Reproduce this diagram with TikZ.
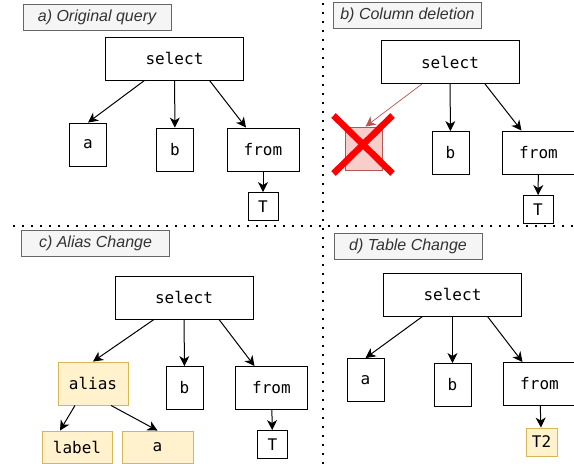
\documentclass[tikz,border=0pt]{standalone}
\usepackage{fontspec}
\setmonofont{DejaVu Sans Mono}
\setsansfont{Liberation Sans}
\usetikzlibrary{arrows.meta,positioning}
\definecolor{tagfill}{HTML}{F5F5F5}
\definecolor{tagline}{HTML}{666666}
\definecolor{tagtext}{HTML}{333333}
\definecolor{newfill}{HTML}{FFF2CC}
\definecolor{newline}{HTML}{D6B656}
\definecolor{delfill}{HTML}{F8CECC}
\definecolor{delline}{HTML}{B85450}
\tikzstyle{box}=[draw=black,line width=0.9pt,fill=white,inner sep=0pt,font=\ttfamily\fontsize{16}{16}\selectfont]
\tikzstyle{selbox}=[box,minimum width=138pt,minimum height=43pt]
\tikzstyle{leafbox}=[box,minimum width=37pt,minimum height=43pt]
\tikzstyle{frombox}=[box,minimum width=72pt,minimum height=43pt]
\tikzstyle{tblbox}=[box,minimum width=30pt,minimum height=28pt]
\tikzstyle{newbox}=[box,draw=newline,fill=newfill]
\tikzstyle{delbox}=[box,draw=delline,fill=delfill]
\tikzstyle{title}=[draw=tagline,fill=tagfill,text=tagtext,line width=0.8pt,minimum width=148pt,minimum height=26pt,inner sep=0pt,font=\sffamily\itshape\fontsize{16}{16}\selectfont]
\tikzstyle{edge}=[draw,line width=1pt,-{Stealth[length=10pt,width=10pt,inset=3pt]}]
\tikzstyle{deledge}=[edge,draw=delline,line width=0.7pt]
\tikzstyle{sep}=[draw,line width=2pt,dash pattern=on 2pt off 7pt]

\begin{document}
\begin{tikzpicture}[x=1pt,y=-1pt]
    \useasboundingbox (0,0) rectangle (574,464);

    % separators
    \path[sep] (322.5,3) -- (322.5,464);
    \path[sep] (13,226) -- (574,226);

    \node[title] (a-title) at (97,17.5)  {a) Original query};
    \node[title] (b-title) at (407.5,15.5) {b) Column deletion};
    \node[title] (c-title) at (95.5,243) {c) Alias Change};
    \node[title] (d-title) at (408,246.5) {d) Table Change};

    \foreach \pos/\name/\label/\kind in {{(174.5,58.5)/a-sel/select/selbox}, {(88,144.5)/a-a/a/leafbox},
        {(175,149.5)/a-b/b/leafbox}, {(263,149.5)/a-from/from/frombox}, {(263,206.5)/a-tbl/T/tblbox},
        {(450,62)/b-sel/select/selbox}, {(450.5,153)/b-b/b/leafbox},
        {(538.5,152.5)/b-from/from/frombox}, {(538,209.5)/b-tbl/T/tblbox},
        {(184,297.5)/c-sel/select/selbox}, {(184.5,388)/c-b/b/leafbox},
        {(271.5,388)/c-from/from/frombox}, {(272.5,444.5)/c-tbl/T/tblbox},
        {(452.5,294.5)/d-sel/select/selbox}, {(365.5,380)/d-a/a/leafbox},
        {(452.5,385)/d-b/b/leafbox}, {(539.5,384)/d-from/from/frombox}}
        \node[\kind] (\name) at \pos {\label};

    \node[leafbox,delbox] (b-a) at (363.5,148.5) {};
    \node[frombox,newbox,minimum height=43pt,minimum width=70pt] (c-alias) at (93,383.5) {alias};
    \node[newbox,minimum width=70pt,minimum height=32pt] (c-label) at (77,447) {label};
    \node[newbox,minimum width=71pt,minimum height=32pt] (c-a) at (157.5,447) {a};
    \node[tblbox,newbox,minimum width=31pt] (d-tbl) at (541.5,442) {T2};

    \foreach \p in {a,b,c,d} {
        \path[edge] (\p-sel) -- (\p-b);
        \path[edge] ([xshift=35pt]\p-sel.south) -- ([xshift=-17pt]\p-from.north);
        \path[edge] (\p-from) -- (\p-tbl);
    }
    \foreach \source/\dest in {a-sel/a-a, c-sel/c-alias, d-sel/d-a}
        \path[edge] ([xshift=-30pt]\source.south) -- (\dest.north);
    \path[deledge] ([xshift=-28pt]b-sel.south) -- ([xshift=2pt]b-a.north);
    \path[edge] ([xshift=-18pt]c-alias.south) -- ([xshift=-17pt]c-label.north);
    \path[edge] ([xshift=18pt]c-alias.south) -- (c-a.north);

    % deleted column
    \draw[red,line width=6.5pt] ([shift={(-30,-33)}]b-a.center) -- ([shift={(29,25)}]b-a.center);
    \draw[red,line width=6.5pt] ([shift={(29,-33)}]b-a.center) -- ([shift={(-30,25)}]b-a.center);
\end{tikzpicture}
\end{document}
